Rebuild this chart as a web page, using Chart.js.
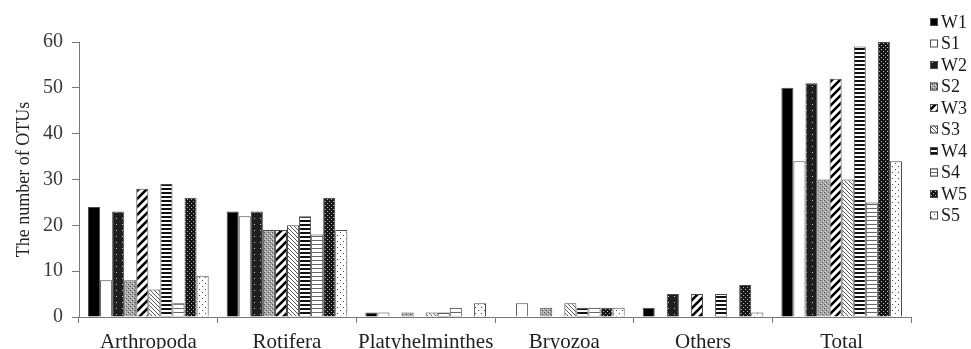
<!DOCTYPE html>
<html>
<head>
<meta charset="utf-8">
<script src="https://cdn.jsdelivr.net/npm/chart.js@4"></script>
<style>
html,body{margin:0;padding:0;background:#fff;}
#wrap{position:relative;width:971px;height:349px;}
</style>
</head>
<body>
<div id="wrap"><canvas id="c" width="971" height="349"></canvas></div>
<script>
const categories = ['Arthropoda','Rotifera','Platyhelminthes','Bryozoa','Others','Total'];
const seriesNames = ['W1','S1','W2','S2','W3','S3','W4','S4','W5','S5'];
const W1 = [24, 23, 1, 0, 2, 50];
const S1 = [8, 22, 1, 3, 0, 34];
const W2 = [23, 23, 0, 0, 5, 51];
const S2 = [8, 19, 1, 2, 0, 30];
const W3 = [28, 19, 0, 0, 5, 52];
const S3 = [6, 20, 1, 3, 0, 30];
const W4 = [29, 22, 1, 2, 5, 59];
const S4 = [3, 18, 2, 2, 0, 25];
const W5 = [26, 26, 0, 2, 7, 60];
const S5 = [9, 19, 3, 2, 1, 34];
const yTicks = [0, 10, 20, 30, 40, 50, 60];
const yTitle = 'The number of OTUs';

const seriesValues = [W1,S1,W2,S2,W3,S3,W4,S4,W5,S5];

function makePattern(w, h, draw) {
  const c = document.createElement('canvas');
  c.width = w; c.height = h;
  const x = c.getContext('2d');
  draw(x, w, h);
  return x.createPattern(c, 'repeat');
}
const patterns = [
  '#000000',
  '#ffffff',
  makePattern(6, 6, (x) => { x.fillStyle = '#1e1e1e'; x.fillRect(0,0,6,6); x.fillStyle = '#cfcfcf'; x.fillRect(2,2,1,1); }),
  makePattern(4, 4, (x) => { x.fillStyle = '#a8a8a8'; x.fillRect(0,0,4,4); x.fillStyle = '#4a4a4a'; x.fillRect(0,0,1,1); x.fillRect(2,2,1,1); x.fillStyle = '#e0e0e0'; x.fillRect(1,3,1,1); x.fillRect(3,1,1,1); }),
  makePattern(8, 8, (x) => { x.fillStyle = '#fff'; x.fillRect(0,0,8,8); x.strokeStyle = '#000'; x.lineWidth = 2.6; x.beginPath(); x.moveTo(-2,10); x.lineTo(10,-2); x.moveTo(-6,6); x.lineTo(6,-6); x.moveTo(2,14); x.lineTo(14,2); x.stroke(); }),
  makePattern(4, 4, (x) => { x.fillStyle = '#fff'; x.fillRect(0,0,4,4); x.strokeStyle = '#555'; x.lineWidth = 1; x.beginPath(); x.moveTo(-1,-1); x.lineTo(5,5); x.moveTo(-1,3); x.lineTo(1,5); x.moveTo(3,-1); x.lineTo(5,1); x.stroke(); }),
  makePattern(2, 4, (x) => { x.fillStyle = '#fff'; x.fillRect(0,0,2,4); x.fillStyle = '#111'; x.fillRect(0,0,2,2); }),
  makePattern(2, 4, (x) => { x.fillStyle = '#fff'; x.fillRect(0,0,2,4); x.fillStyle = '#666'; x.fillRect(0,0,2,1); }),
  makePattern(4, 4, (x) => { x.fillStyle = '#151515'; x.fillRect(0,0,4,4); x.fillStyle = '#bdbdbd'; x.fillRect(1,1,1,1); x.fillRect(3,3,1,1); }),
  makePattern(6, 6, (x) => { x.fillStyle = '#fff'; x.fillRect(0,0,6,6); x.fillStyle = '#444'; x.fillRect(1,1,1,1); x.fillRect(4,4,1,1); })
];

const datasets = seriesNames.map((name, i) => ({
  label: name,
  data: seriesValues[i],
  backgroundColor: patterns[i],
  borderColor: '#4a4a4a',
  borderWidth: 1,
  borderSkipped: 'bottom',
  categoryPercentage: 0.87,
  barPercentage: 1.0
}));

const legendPlugin = {
  id: 'sideLegend',
  afterDraw(chart) {
    const ctx = chart.ctx;
    ctx.save();
    ctx.font = '18px "Liberation Serif", "Times New Roman", serif';
    ctx.textBaseline = 'middle';
    ctx.textAlign = 'left';
    chart.data.datasets.forEach((ds, i) => {
      const cy = 22 + i * 21.5;
      ctx.fillStyle = ds.backgroundColor;
      ctx.fillRect(930, cy - 4, 8, 8);
      ctx.strokeStyle = '#4a4a4a';
      ctx.lineWidth = 1;
      ctx.strokeRect(930.5, cy - 3.5, 7, 7);
      ctx.fillStyle = '#1a1a1a';
      ctx.fillText(ds.label, 941, cy + 1);
    });
    ctx.restore();
  }
};

new Chart(document.getElementById('c'), {
  type: 'bar',
  data: { labels: categories, datasets },
  plugins: [legendPlugin],
  options: {
    responsive: false,
    animation: false,
    layout: { padding: { top: 42, right: 60, bottom: 0, left: 0 } },
    plugins: { legend: { display: false }, tooltip: { enabled: false } },
    scales: {
      x: {
        grid: { display: true, offset: true, drawOnChartArea: false, drawTicks: true, tickLength: 6, color: '#777' },
        border: { display: true, color: '#777' },
        ticks: { color: '#222', padding: 7, maxRotation: 0, minRotation: 0, autoSkip: false, font: { family: '"Liberation Serif", "Times New Roman", serif', size: 21 } },
        afterFit: (s) => { s.height = 32; }
      },
      y: {
        min: 0, max: 60,
        afterBuildTicks: (s) => { s.ticks = yTicks.map(v => ({ value: v })); },
        grid: { display: true, drawOnChartArea: false, drawTicks: true, tickLength: 7, color: '#777' },
        border: { display: true, color: '#777' },
        ticks: { color: '#3a3a3a', padding: 9, font: { family: '"Liberation Serif", "Times New Roman", serif', size: 20 } },
        title: { display: true, text: yTitle, color: '#222', padding: { top: 13, bottom: 0 }, font: { family: '"Liberation Serif", "Times New Roman", serif', size: 18 } },
        afterFit: (s) => { s.width = 79; }
      }
    }
  }
});
</script>
</body>
</html>
